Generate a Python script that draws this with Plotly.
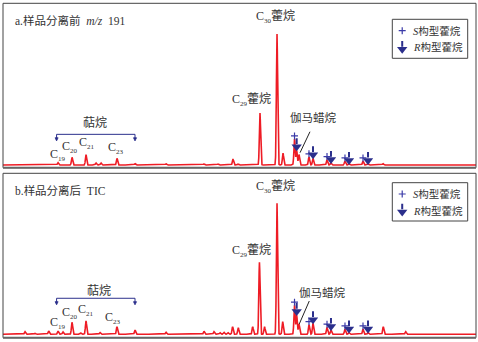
import numpy as np
import plotly.graph_objects as go

# ---------------- data ----------------
# Retention scale 0-100 across the run, intensities relative to C30 hopane (=100)

# a. before separation, m/z 191
rt_a = [11.63, 14.59, 17.55, 19.66, 20.72, 24.10, 27.91, 34.46, 42.49, 45.45,
        48.62, 49.68, 54.33, 57.93, 59.20, 62.58, 80.34]
h_a = [1.8, 5.9, 7.9, 1.5, 1.5, 5.1, 1.0, 0.9, 0.8, 0.8,
       4.6, 0.8, 39.7, 100.0, 9.0, 8.0, 1.0]

# b. after separation, TIC
rt_b = [4.65, 6.77, 9.66, 11.63, 12.68, 14.59, 16.43, 17.55, 20.51, 24.10,
        27.91, 34.46, 42.49, 44.61, 45.88, 46.72, 47.57, 48.55, 49.74, 52.79,
        54.22, 55.29, 57.93, 59.13, 62.58, 80.40, 85.13]
h_b = [2.0, 0.8, 2.5, 2.5, 1.8, 9.2, 1.0, 10.2, 1.3, 5.8,
       3.3, 1.5, 2.3, 2.0, 1.2, 1.5, 1.2, 5.8, 5.0, 5.8,
       55.0, 5.8, 100.0, 9.6, 8.0, 5.8, 2.0]

# homohopane 22S / 22R epimer pairs (C31-C35)
rt_s = [61.63, 64.69, 68.50, 72.30, 76.11]
rt_r = [62.09, 65.54, 69.34, 73.15, 77.17]
s_a = [19.8, 6.1, 4.0, 3.0, 3.0]
r_a = [11.2, 5.1, 1.5, 0.8, 0.8]
s_b = [22.1, 7.3, 5.3, 4.0, 4.0]
r_b = [14.7, 8.4, 3.3, 1.3, 1.3]

# labelled compounds
tricyclic_rt = [11.63, 14.59, 17.55, 24.10]
tricyclic_num = ["19", "20", "21", "23"]
tricyclic_end_rt = 27.91
c29_rt, c30_rt, gam_rt = 54.33, 57.93, 62.58

# ---------------- styling ----------------
RED = "#ee1c25"
NAVY = "#2b2f8c"
BLUE = "#3a3aa8"
TXT = "#333333"
FONT = "Liberation Serif, Noto Sans CJK SC, serif"
SIGMA = 0.13

grid = np.linspace(0, 100, 6001)


def chromatogram(rts, hs):
    y = np.zeros_like(grid)
    for c, h in zip(rts, hs):
        y += h * np.exp(-0.5 * ((grid - c) / SIGMA) ** 2)
    return y


def carbon(n):
    return f"C<sub><span style='font-size:7px'>{n}</span></sub>"


W, H = 478, 342
xdom = [3 / W, 476 / W]
ydom_a = [1 - 167.7 / H, 1 - 3.3 / H]
ydom_b = [1 - 337.7 / H, 1 - 173.3 / H]

fig = go.Figure()

panels = [
    dict(xa="x", ya="y", rts=rt_a, hs=h_a, s=s_a, r=r_a),
    dict(xa="x2", ya="y2", rts=rt_b, hs=h_b, s=s_b, r=r_b),
]

plus_marker = dict(symbol="cross-thin", size=5, line=dict(color=BLUE, width=1.2))
stem_marker = dict(symbol="line-ns", size=4, line=dict(color=NAVY, width=2))
head_marker = dict(symbol="triangle-down", size=9, color=NAVY, line=dict(width=0))

for p in panels:
    rts = p["rts"] + rt_s + rt_r
    hs = p["hs"] + p["s"] + p["r"]
    fig.add_trace(go.Scatter(x=grid, y=chromatogram(rts, hs), mode="lines",
                             line=dict(color=RED, width=1.6),
                             xaxis=p["xa"], yaxis=p["ya"], showlegend=False,
                             hoverinfo="skip"))
    # S epimers: cross above each peak
    fig.add_trace(go.Scatter(x=rt_s, y=[v + 2.4 for v in p["s"]], mode="markers",
                             marker=plus_marker,
                             xaxis=p["xa"], yaxis=p["ya"], showlegend=False))
    # R epimers: down arrow (stem + head)
    fig.add_trace(go.Scatter(x=rt_r, y=[v + 7.0 for v in p["r"]], mode="markers",
                             marker=stem_marker,
                             xaxis=p["xa"], yaxis=p["ya"], showlegend=False))
    fig.add_trace(go.Scatter(x=rt_r, y=[v + 2.7 for v in p["r"]], mode="markers",
                             marker=head_marker,
                             xaxis=p["xa"], yaxis=p["ya"], showlegend=False))

# legend keys
for xa, ya, ys, yr in [("x", "y", 102.5, 88.3), ("x2", "y2", 107.1, 93.4)]:
    fig.add_trace(go.Scatter(x=[84.4], y=[ys], mode="markers", marker=plus_marker,
                             xaxis=xa, yaxis=ya, showlegend=False))
    fig.add_trace(go.Scatter(x=[84.4], y=[yr + 4.1], mode="markers", marker=stem_marker,
                             xaxis=xa, yaxis=ya, showlegend=False))
    fig.add_trace(go.Scatter(x=[84.4], y=[yr], mode="markers", marker=head_marker,
                             xaxis=xa, yaxis=ya, showlegend=False))

ax = dict(visible=False, showgrid=False, zeroline=False, fixedrange=True)
fig.update_layout(
    width=W, height=H, margin=dict(l=0, r=0, t=0, b=0),
    paper_bgcolor="white", plot_bgcolor="rgba(0,0,0,0)",
    xaxis=dict(ax, domain=xdom, range=[0, 100], anchor="y"),
    yaxis=dict(ax, domain=ydom_a, range=[-2.06, 123.4], anchor="x"),
    xaxis2=dict(ax, domain=xdom, range=[0, 100], anchor="y2"),
    yaxis2=dict(ax, domain=ydom_b, range=[-2.6, 122.9], anchor="x2"),
)

shapes = []
annotations = []


def txt(x, y, text, xref, yref, size=12, xanchor="center", yanchor="middle"):
    annotations.append(dict(x=x, y=y, xref=xref, yref=yref, text=text, showarrow=False,
                            xanchor=xanchor, yanchor=yanchor,
                            font=dict(family=FONT, size=size, color=TXT)))


# panel frames
for yd in (ydom_a, ydom_b):
    shapes.append(dict(type="rect", xref="paper", yref="paper", x0=xdom[0], x1=xdom[1],
                       y0=yd[0], y1=yd[1], line=dict(color="#444444", width=1)))
    shapes.append(dict(type="line", xref="paper", yref="paper", x0=xdom[0], x1=xdom[1],
                       y0=yd[0], y1=yd[0], line=dict(color="#666666", width=2)))

# titles
txt(13 / W, 1 - 20 / H, "a.样品分离前\u00a0\u00a0<i>m/z</i>\u00a0\u00a0191", "paper", "paper",
    size=11.5, xanchor="left")
txt(13 / W, 1 - 190 / H, "b.样品分离后\u00a0\u00a0TIC", "paper", "paper",
    size=11.5, xanchor="left")

# legend boxes and texts
for top, bot, ys, yr in [(19.3, 58.3, 31, 47.5), (182.7, 221, 194, 211)]:
    shapes.append(dict(type="rect", xref="paper", yref="paper", x0=392.3 / W, x1=467.7 / W,
                       y0=1 - bot / H, y1=1 - top / H,
                       line=dict(color="#444444", width=1), fillcolor="white", layer="below"))
    txt(410.5 / W, 1 - ys / H, "<i>S</i>构型藿烷", "paper", "paper", size=10.5, xanchor="left")
    txt(410.5 / W, 1 - yr / H, "<i>R</i>构型藿烷", "paper", "paper", size=10.5, xanchor="left")

# per-panel label placement
label_cfg = [
    dict(xr="x", yr="y", c30=113.2, c29=49.6, gam=(65.7, 35.9),
         gline=(64.9, 25.4, 62.8, 9.4), tri=[7.6, 13.7, 16.8, 13.0],
         tri_dx=[0.1, -0.4, 0.15, -0.2], terp=(19.45, 32.0), br=23.4),
    dict(xr="x2", yr="y2", c30=112.7, c29=63.6, gam=(67.5, 31.8),
         gline=(64.75, 25.4, 62.64, 7.9), tri=[8.4, 16.5, 18.5, 12.4],
         tri_dx=[-0.1, -0.4, 0.1, -0.9], terp=(20.2, 33.3), br=27.5),
]

for c in label_cfg:
    xr, yr = c["xr"], c["yr"]
    txt(c30_rt - 0.4, c["c30"], carbon("30") + "藿烷", xr, yr, size=12)
    txt(c29_rt - 1.8, c["c29"], carbon("29") + "藿烷", xr, yr, size=12)
    txt(c["gam"][0], c["gam"][1], "伽马蜡烷", xr, yr, size=11.5)
    x0, y0, x1, y1 = c["gline"]
    shapes.append(dict(type="line", xref=xr, yref=yr, x0=x0, y0=y0, x1=x1, y1=y1,
                       line=dict(color="#222222", width=1)))
    for rt, num, ty, dx in zip(tricyclic_rt, tricyclic_num, c["tri"], c["tri_dx"]):
        txt(rt + dx, ty, carbon(num), xr, yr, size=12)
    txt(c["terp"][0], c["terp"][1], "萜烷", xr, yr, size=12)
    # bracket spanning the tricyclic terpane series
    bl, brx, by = tricyclic_rt[0] - 0.3, tricyclic_end_rt, c["br"]
    path = f"M{bl},{by - 3.0} L{bl},{by} L{brx},{by} L{brx},{by - 3.0}"
    shapes.append(dict(type="path", xref=xr, yref=yr, path=path,
                       line=dict(color=NAVY, width=1)))
    for xe in (bl, brx):
        head = f"M{xe - 0.32},{by - 2.6} L{xe + 0.32},{by - 2.6} L{xe},{by - 5.0} Z"
        shapes.append(dict(type="path", xref=xr, yref=yr, path=head,
                           fillcolor=NAVY, line=dict(color=NAVY, width=0.8)))

fig.update_layout(shapes=shapes, annotations=annotations)
fig.write_html("out.html")
